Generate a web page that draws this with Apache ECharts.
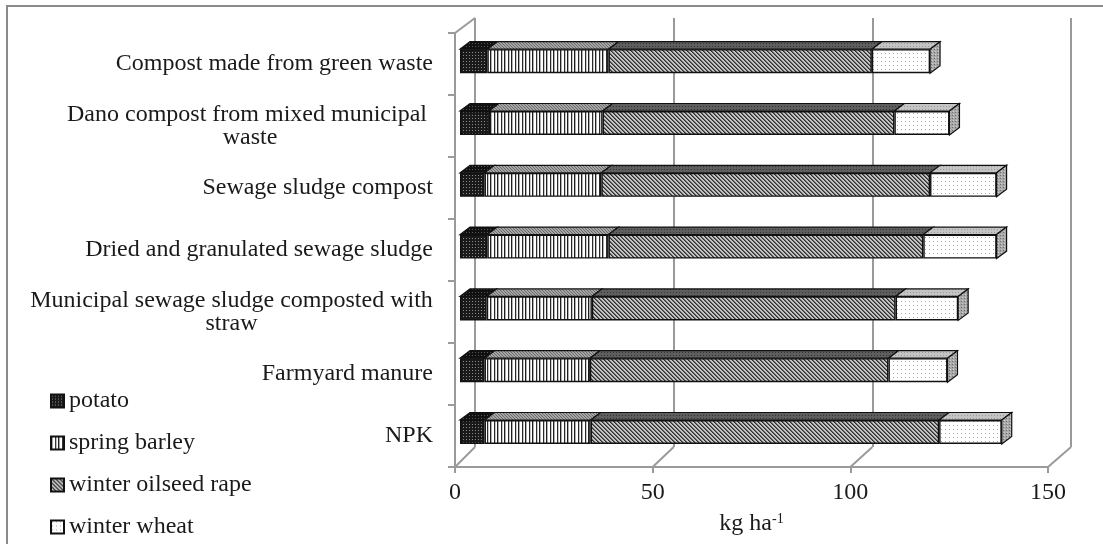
<!DOCTYPE html>
<html><head><meta charset="utf-8">
<script src="https://cdn.jsdelivr.net/npm/echarts@6/dist/echarts.min.js"></script>
<style>html,body{margin:0;padding:0;background:#fff}#c{width:1103px;height:544px}</style>
</head><body><div id="c"></div>
<script>
// ---- data ----
const categories = ['Compost made from green waste', 'Dano compost from mixed municipal \nwaste', 'Sewage sludge compost', 'Dried and granulated sewage sludge', 'Municipal sewage sludge composted with\nstraw', 'Farmyard manure', 'NPK'];
const seriesNames = ['potato', 'spring barley', 'winter oilseed rape', 'winter wheat'];
const potato = [6.9, 7.3, 6.2, 6.9, 6.7, 6.2, 6.2];
const springBarley = [30.6, 28.7, 29.5, 30.6, 26.6, 26.6, 26.8];
const winterOilseedRape = [66.5, 73.7, 83.0, 79.5, 76.7, 75.4, 88.0];
const winterWheat = [14.7, 13.9, 16.8, 18.5, 15.8, 14.9, 15.8];
const xTicks = [0, 50, 100, 150];
const axisName = 'kg ha';
const axisNameSup = '-1';

// ---- layout / style ----
const W = 1103, H = 544;
const FRONT = {left: 455, right: 1048, top: 33, bottom: 467};
const BACK = {left: 475, right: 1071, top: 18, bottom: 447};
const BARG = {left: 460, right: 1054, top: 30.3, bottom: 462.9};
const DX = 10, DY = -7.5, BAR_H = 24;
const FONT = '"Liberation Serif", "Times New Roman", serif';
const TXT = '#1a1a1a';
const GRID_C = '#9a9a9a';

function pat(w, h, bg, px) {
  const c = document.createElement('canvas'); c.width = w; c.height = h;
  const g = c.getContext('2d'); g.fillStyle = bg; g.fillRect(0, 0, w, h);
  px.forEach(([x, y, col]) => { g.fillStyle = col; g.fillRect(x, y, 1, 1); });
  return {image: c, repeat: 'repeat'};
}
function cols(w, h, bg, colMap) {
  const px = [];
  Object.keys(colMap).forEach(x => { for (let y = 0; y < h; y++) px.push([+x, y, colMap[x]]); });
  return pat(w, h, bg, px);
}
const frontFills = [
  pat(3, 3, '#1a1a1a', [[1, 1, '#8a8a8a']]),
  cols(7, 4, '#ffffff', {0: '#1e1e1e', 1: '#b0b0b0', 4: '#2a2a2a', 5: '#c8c8c8'}),
  pat(4, 4, '#c4c4c4', [[0,0,'#2e2e2e'],[1,1,'#2e2e2e'],[2,2,'#2e2e2e'],[3,3,'#2e2e2e'],[1,0,'#6a6a6a'],[2,1,'#6a6a6a'],[3,2,'#6a6a6a'],[0,3,'#6a6a6a']]),
  pat(4, 4, '#ffffff', [[1, 1, '#a8a8a8']])
];
const topFills = [
  pat(3, 3, '#111111', [[1, 1, '#555']]),
  pat(3, 3, '#a5a5a5', [[0, 0, '#6a6a6a'], [1, 1, '#6a6a6a'], [2, 2, '#6a6a6a']]),
  pat(3, 3, '#5e5e5e', [[1, 1, '#333']]),
  pat(3, 3, '#c4c4c4', [[1, 1, '#999']])
];
const sideFill = pat(3, 3, '#a8a8a8', [[1, 1, '#6e6e6e'], [2, 0, '#cfcfcf']]);
const seriesData = [potato, springBarley, winterOilseedRape, winterWheat];

// centred multi-line category labels
const mctx = document.createElement('canvas').getContext('2d');
mctx.font = '24px ' + FONT;
const rich = {s: {fontFamily: FONT, fontSize: 24, color: TXT, lineHeight: 24}};
function lineW(v) { return Math.round(Math.max.apply(null, v.split('\n').map(l => mctx.measureText(l).width))); }
categories.forEach(c => {
  if (c.indexOf('\n') >= 0) {
    const w = lineW(c);
    rich['m' + w] = {fontFamily: FONT, fontSize: 24, color: TXT, lineHeight: 23, width: w, align: 'center'};
  }
});
function labelFmt(v) {
  if (v.indexOf('\n') < 0) return '{s|' + v + '}';
  const w = lineW(v);
  return v.split('\n').map(l => '{m' + w + '|' + l + '}').join('\n');
}

const chart = echarts.init(document.getElementById('c'), null, {renderer: 'canvas'});

const barSeries = seriesNames.map((n, k) => ({
  name: n, type: 'bar', stack: 'total', xAxisIndex: 1, yAxisIndex: 1,
  barWidth: BAR_H, z: 3,
  itemStyle: {color: frontFills[k], borderColor: '#111', borderWidth: 1.4},
  emphasis: {disabled: true},
  data: seriesData[k]
}));

const customData = categories.map((c, i) => [i, potato[i], springBarley[i], winterOilseedRape[i], winterWheat[i]]);

const option = {
  animation: false,
  backgroundColor: '#fff',
  grid: [
    {left: FRONT.left, right: W - FRONT.right, top: FRONT.top, bottom: H - FRONT.bottom},
    {left: BARG.left, right: W - BARG.right, top: BARG.top, bottom: H - BARG.bottom},
    {left: BACK.left, right: W - BACK.right, top: BACK.top, bottom: H - BACK.bottom}
  ],
  xAxis: [
    {gridIndex: 0, type: 'value', min: 0, max: 150, interval: 50,
     axisLine: {show: true, lineStyle: {color: GRID_C, width: 2}},
     axisTick: {show: true, length: 6, lineStyle: {color: GRID_C, width: 2}},
     splitLine: {show: false},
     axisLabel: {fontFamily: FONT, fontSize: 24, color: TXT, margin: 14},
     name: '{a|' + axisName + '}{b|' + axisNameSup + '}', nameLocation: 'middle', nameGap: 45,
     nameTextStyle: {rich: {a: {fontFamily: FONT, fontSize: 24, color: TXT, lineHeight: 24},
                            b: {fontFamily: FONT, fontSize: 14, color: TXT, verticalAlign: 'top', lineHeight: 24}}}},
    {gridIndex: 1, type: 'value', min: 0, max: 150, show: false},
    {gridIndex: 2, type: 'value', min: 0, max: 150, interval: 50,
     axisLine: {show: false}, axisTick: {show: false}, axisLabel: {show: false},
     splitLine: {show: true, lineStyle: {color: GRID_C, width: 2}}}
  ],
  yAxis: [
    {gridIndex: 0, type: 'category', data: categories, inverse: true,
     axisLine: {show: true, lineStyle: {color: GRID_C, width: 2}},
     axisTick: {show: true, length: 7, lineStyle: {color: GRID_C, width: 2}},
     axisLabel: {interval: 0, margin: 22, formatter: labelFmt, rich: rich}},
    {gridIndex: 1, type: 'category', data: categories, inverse: true, show: false},
    {gridIndex: 2, type: 'category', data: categories, inverse: true, show: false}
  ],
  legend: {
    data: seriesNames, orient: 'vertical', left: 50, top: 389, padding: 0,
    itemWidth: 13, itemHeight: 13, itemGap: 18, icon: 'rect',
    textStyle: {fontFamily: FONT, fontSize: 24, color: TXT, lineHeight: 24},
    selectedMode: false
  },
  series: barSeries.concat([{
    type: 'custom', xAxisIndex: 1, yAxisIndex: 1, z: 4, silent: true,
    encode: {x: 1, y: 0},
    data: customData,
    renderItem: function (params, api) {
      const ci = api.value(0);
      const vals = [api.value(1), api.value(2), api.value(3), api.value(4)];
      const yc = api.coord([0, ci])[1];
      const yT = yc - BAR_H / 2, yB = yc + BAR_H / 2;
      let acc = 0; const children = [];
      for (let k = 0; k < 4; k++) {
        const x0 = api.coord([acc, ci])[0];
        acc += vals[k];
        const x1 = api.coord([acc, ci])[0];
        children.push({type: 'polygon', shape: {points: [[x0, yT], [x1, yT], [x1 + DX, yT + DY], [x0 + DX, yT + DY]]},
          style: {fill: topFills[k], stroke: '#111', lineWidth: 1.2}});
        if (k === 3) {
          children.push({type: 'polygon', shape: {points: [[x1, yT], [x1 + DX, yT + DY], [x1 + DX, yB + DY], [x1, yB]]},
            style: {fill: sideFill, stroke: '#111', lineWidth: 1.2}});
        }
      }
      return {type: 'group', children: children};
    }
  }])
};
chart.setOption(option);

// 3D frame decorations derived from the axes
const deco = [
  {type: 'rect', z: 0, shape: {x: 7, y: 6, width: 1200, height: 700}, style: {fill: null, stroke: '#8a8a8a', lineWidth: 2}, silent: true},
  {type: 'line', z: 0, shape: {x1: FRONT.left, y1: FRONT.top, x2: BACK.left, y2: BACK.top}, style: {stroke: GRID_C, lineWidth: 2}, silent: true}
];
xTicks.forEach(v => {
  const xf = chart.convertToPixel({xAxisIndex: 0}, v);
  const xb = chart.convertToPixel({xAxisIndex: 2}, v);
  deco.push({type: 'line', z: 0, shape: {x1: xf, y1: FRONT.bottom, x2: xb, y2: BACK.bottom}, style: {stroke: GRID_C, lineWidth: 2}, silent: true});
});
chart.setOption({graphic: deco});
</script>
</body></html>
